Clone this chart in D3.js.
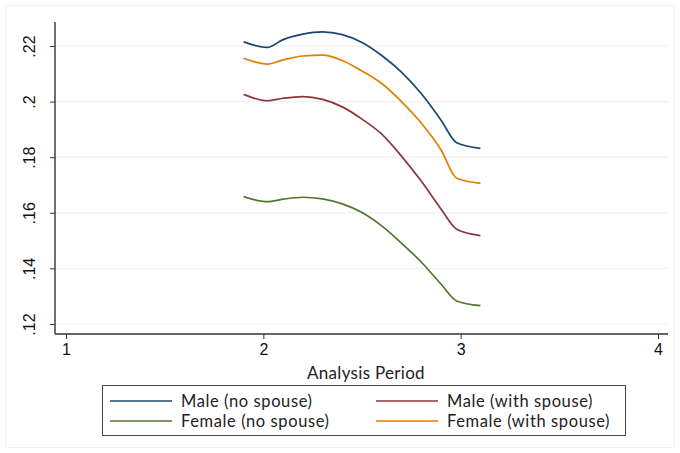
<!DOCTYPE html>
<html>
<head>
<meta charset="utf-8">
<script src="https://cdn.jsdelivr.net/npm/d3@7"></script>
<style>
  body { margin: 0; background: #fff; }
  svg { display: block; }
</style>
</head>
<body>
<svg width="680" height="453"></svg>
<script>
// analysis period values where the predictions were drawn
const periods = [1.9, 2.02, 2.1, 2.2, 2.3, 2.4, 2.5, 2.6, 2.7, 2.8, 2.9, 2.98, 3.1];

const maleNoSpouse     = [0.2215, 0.2195, 0.2223, 0.2243, 0.2251, 0.2241, 0.2213, 0.2166, 0.2106, 0.2029, 0.1934, 0.1852, 0.1832];
const maleWithSpouse   = [0.2026, 0.2003, 0.2012, 0.2018, 0.2008, 0.1981, 0.1937, 0.1883, 0.1804, 0.1714, 0.1614, 0.1541, 0.1518];
const femaleNoSpouse   = [0.1658, 0.1640, 0.1649, 0.1656, 0.1650, 0.1632, 0.1601, 0.1553, 0.1491, 0.1423, 0.1344, 0.1283, 0.1266];
const femaleWithSpouse = [0.2156, 0.2135, 0.2150, 0.2164, 0.2167, 0.2148, 0.2110, 0.2065, 0.2000, 0.1923, 0.1827, 0.1724, 0.1706];

const seriesNames = ["Male (no spouse)", "Male (with spouse)", "Female (no spouse)", "Female (with spouse)"];
const xTicks = [1, 2, 3, 4];
const yTicks = [0.12, 0.14, 0.16, 0.18, 0.2, 0.22];

const series = [
  { name: seriesNames[0], values: maleNoSpouse,     color: "#1a476f" },
  { name: seriesNames[1], values: maleWithSpouse,   color: "#90353b" },
  { name: seriesNames[2], values: femaleNoSpouse,   color: "#55752f" },
  { name: seriesNames[3], values: femaleWithSpouse, color: "#e37e00" }
];

const svg = d3.select("svg");

// light outer frame of the graph region
svg.append("rect")
   .attr("x", 5.5).attr("y", 5.5)
   .attr("width", 669).attr("height", 442)
   .attr("fill", "none")
   .attr("stroke", "#eef3f5");

const plotLeft = 55, plotRight = 668, plotTop = 22, plotBottom = 334;

const x = d3.scaleLinear().domain([1, 4]).range([66, 658]);
const y = d3.scaleLinear().domain([0.12, 0.22]).range([324, 46]);

// gridlines
svg.append("g")
   .selectAll("line")
   .data(yTicks)
   .join("line")
   .attr("x1", plotLeft).attr("x2", plotRight)
   .attr("y1", d => y(d)).attr("y2", d => y(d))
   .attr("stroke", "#eaf2f3")
   .attr("stroke-width", 1.2);

// lines
const line = d3.line()
  .x((d, i) => x(periods[i]))
  .y(d => y(d))
  .curve(d3.curveMonotoneX);

svg.append("g")
   .selectAll("path")
   .data(series)
   .join("path")
   .attr("d", d => line(d.values))
   .attr("fill", "none")
   .attr("stroke", d => d.color)
   .attr("stroke-width", 1.7)
   .attr("stroke-linejoin", "round");

// y axis
const fmt = d => d3.format(".2f")(d).replace(/^0/, "").replace(/0$/, "");
const yAxis = svg.append("g")
   .attr("transform", `translate(${plotLeft},0)`)
   .call(d3.axisLeft(y).tickValues(yTicks).tickFormat(fmt).tickSize(5).tickSizeOuter(0));
yAxis.select(".domain").remove();
yAxis.append("line")
   .attr("y1", plotTop).attr("y2", plotBottom)
   .attr("stroke", "#333").attr("stroke-width", 1.4);
yAxis.selectAll(".tick line").attr("stroke", "#333");
yAxis.selectAll(".tick text")
   .attr("transform", "rotate(-90)")
   .attr("x", 0).attr("y", -20)
   .attr("dy", 0)
   .attr("text-anchor", "middle")
   .attr("fill", "#111")
   .style("font", "16px 'Liberation Sans', Arial, sans-serif");

// x axis
const xAxis = svg.append("g")
   .attr("transform", `translate(0,${plotBottom})`)
   .call(d3.axisBottom(x).tickValues(xTicks).tickFormat(d3.format("d")).tickSize(5).tickSizeOuter(0));
xAxis.select(".domain").remove();
xAxis.append("line")
   .attr("x1", plotLeft).attr("x2", plotRight)
   .attr("stroke", "#333").attr("stroke-width", 1.4);
xAxis.selectAll(".tick line").attr("stroke", "#333");
xAxis.selectAll(".tick text")
   .attr("y", 10)
   .attr("fill", "#111")
   .style("font", "16px 'Liberation Sans', Arial, sans-serif");

svg.append("text")
   .attr("x", 366).attr("y", 379)
   .attr("text-anchor", "middle")
   .attr("fill", "#222")
   .style("font", "17px Lato, sans-serif")
   .style("letter-spacing", "0.3px")
   .text("Analysis Period");

// legend
const legend = svg.append("g");
legend.append("rect")
   .attr("x", 102.5).attr("y", 385.5)
   .attr("width", 523).attr("height", 50)
   .attr("fill", "#fff")
   .attr("stroke", "#444")
   .attr("stroke-width", 1);

const legX = [110, 376];
const legY = [401, 421];
const items = legend.selectAll("g.item")
   .data(series)
   .join("g")
   .attr("class", "item")
   .attr("transform", (d, i) => `translate(${legX[i % 2]},${legY[Math.floor(i / 2)]})`);
items.append("line")
   .attr("x1", 0).attr("x2", 62)
   .attr("stroke", d => d.color)
   .attr("stroke-width", 1.7);
items.append("text")
   .attr("x", 71).attr("dy", "0.35em")
   .attr("fill", "#222")
   .style("font", "16.5px Lato, sans-serif")
   .style("letter-spacing", "0.6px")
   .text(d => d.name);
</script>
</body>
</html>
